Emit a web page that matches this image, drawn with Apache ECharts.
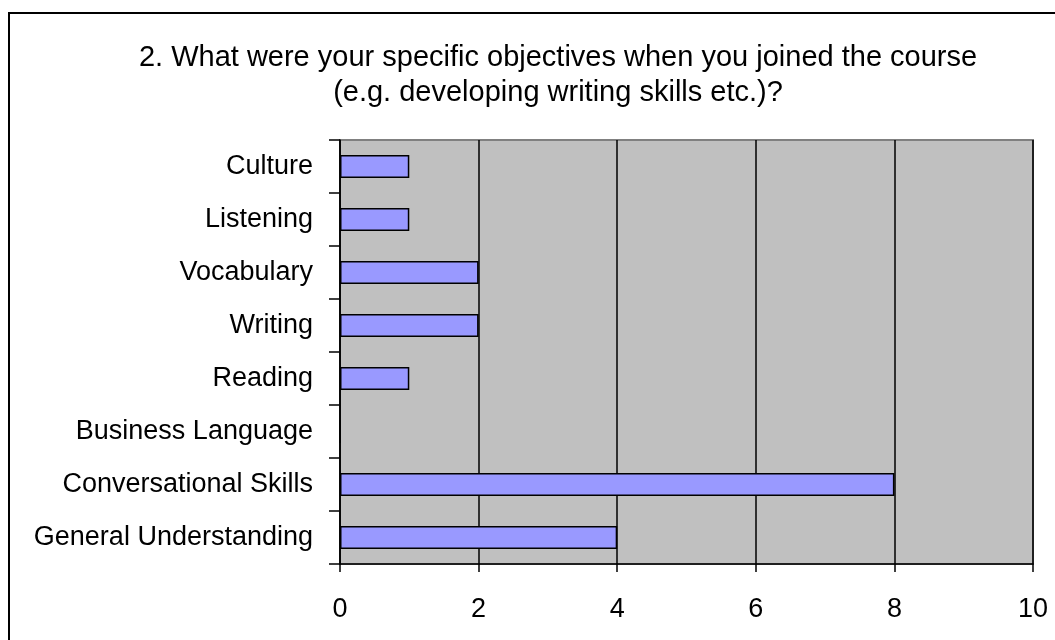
<!DOCTYPE html>
<html>
<head>
<meta charset="utf-8">
<style>html,body{margin:0;padding:0;background:#fff;}#c{width:1055px;height:640px;}</style>
<script src="https://cdn.jsdelivr.net/npm/echarts@6/dist/echarts.min.js"></script>
</head>
<body>
<div id="c"></div>
<script>
const titleText = '2. What were your specific objectives when you joined the course\n(e.g. developing writing skills etc.)?';
const categories = ['General Understanding','Conversational Skills','Business Language','Reading','Writing','Vocabulary','Listening','Culture'];
const values = [4, 8, 0, 1, 2, 2, 1, 1];
const xTicks = [0, 2, 4, 6, 8, 10];

const chart = echarts.init(document.getElementById('c'));
const font = '"Liberation Sans", Arial, sans-serif';
chart.setOption({
  animation: false,
  backgroundColor: '#fff',
  title: {
    text: titleText,
    left: 553, top: 35, textAlign: 'center',
    textStyle: {fontFamily: font, fontSize: 29, fontWeight: 'normal', color: '#000', lineHeight: 35}
  },
  graphic: [{
    type: 'polyline',
    shape: {points: [[9, 640], [9, 13], [1055, 13]]},
    style: {stroke: '#000', lineWidth: 2, fill: null},
    silent: true
  }],
  grid: {
    left: 340, right: 22, top: 140, bottom: 76,
    show: true, backgroundColor: '#C0C0C0', borderColor: '#808080', borderWidth: 2
  },
  xAxis: {
    type: 'value', min: 0, max: 10, interval: 2,
    axisLine: {show: true, lineStyle: {color: '#000', width: 1.5}},
    axisTick: {show: true, length: 8, lineStyle: {color: '#000', width: 1.5}},
    axisLabel: {fontFamily: font, fontSize: 27, color: '#000', margin: 32,
      formatter: v => xTicks.includes(v) ? String(v) : ''},
    splitLine: {show: true, lineStyle: {color: '#000', width: 1.5}}
  },
  yAxis: {
    type: 'category', data: categories,
    axisLine: {show: true, lineStyle: {color: '#000', width: 1.5}},
    axisTick: {show: true, length: 11, lineStyle: {color: '#000', width: 1.5}},
    axisLabel: {fontFamily: font, fontSize: 27, color: '#000', margin: 27, padding: [3, 0, 0, 0]},
    splitLine: {show: false}
  },
  series: [{
    type: 'bar', data: values, barWidth: '43%',
    itemStyle: {color: '#9999FF', borderColor: '#000', borderWidth: 1.5}
  }]
});
</script>
</body>
</html>
